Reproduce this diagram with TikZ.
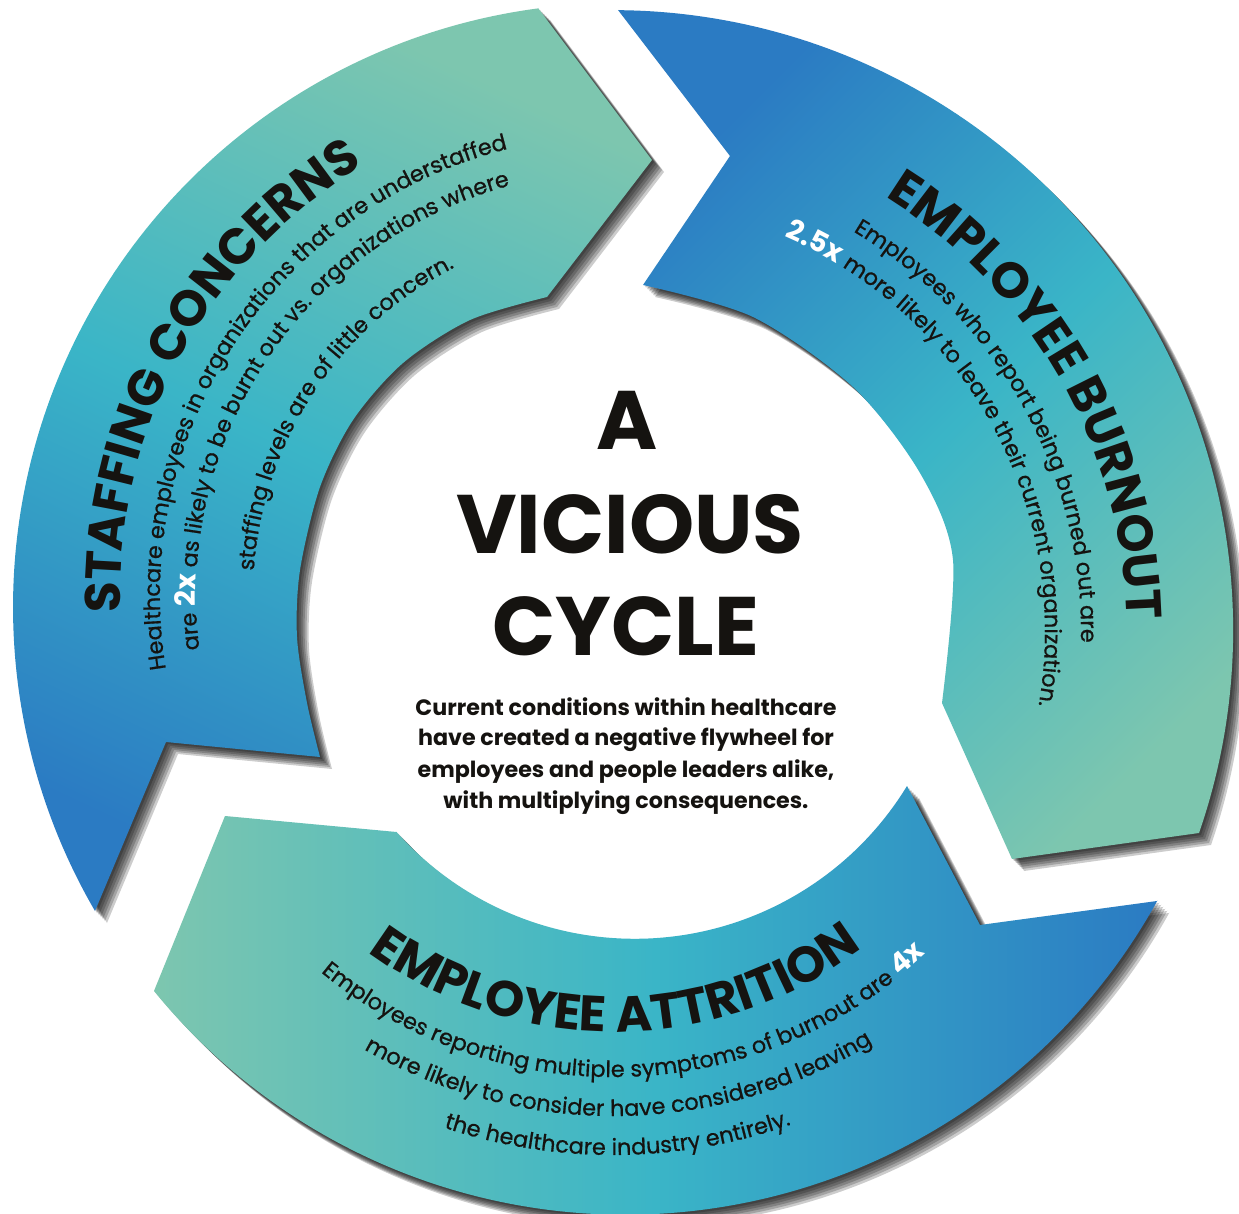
\documentclass[tikz,border=0pt]{standalone}
\usepackage{fontspec}
\setmainfont{Poppins}
\newfontfamily\bodyface[FakeBold=0.7]{Poppins}
\usetikzlibrary{decorations.text}

\definecolor{ringblue}{HTML}{2B7BC3}
\definecolor{ringcyan}{HTML}{3AB5C7}
\definecolor{ringgreen}{HTML}{7DC6AF}
\definecolor{ink}{HTML}{151310}

\newcommand\rtitle{\fontsize{25pt}{25pt}\selectfont\bfseries\color{ink}}
\newcommand\rbody{\fontsize{11.2pt}{12pt}\bodyface\mdseries\color{ink}}
\newcommand\rnum{\fontsize{14pt}{14pt}\rmfamily\bfseries\color{white}}

% one line of text set along an arc: centre x, centre y, start angle, end angle, radius, text
\newcommand\arcline[6]{%
  \path[decorate,decoration={text along path,text align=center,text={#6}}]
    ([shift={(#3:#5)}]#1,#2) arc[start angle=#3,end angle=#4,radius=#5];}

% outlines of the three arrows (pixel units, y pointing down)
\def\staffshape{(538,8) -- (652,160) -- (547,297)
  -- plot[smooth] coordinates {(547,297) (470,320) (403,363) (353,420) (320,487) (300,570) (297,637) (307,703) (320,757)}
  -- (166,742) -- (95,911) arc[start angle=149.8,end angle=262.5,radius=604] -- cycle}
\def\burnshape{(618,10) -- (730,156) -- (643,285)
  -- plot[smooth] coordinates {(643,285) (753,317) (853,387) (920,473) (953,560) (942,703)}
  -- (1012,859) -- (1199,833) arc[start angle=19.1,end angle=-89.5,radius=620] -- cycle}
\def\attrshape{(1157,901) -- (980,925) -- (907,786)
  arc[start angle=31.4,end angle=138.3,radius=319]
  -- (225,816) -- (154,991) arc[start angle=140.8,end angle=28.9,radius=608] -- cycle}

\tikzset{
  ringfill/.style={bottom color=ringblue,top color=ringgreen,middle color=ringcyan,shading angle=#1},
  shadowlayer/.style={fill=black,opacity=0.2,shift={(#1,#1)}},
  bigword/.style={inner sep=0pt,anchor=base,text=ink,font=\fontsize{41.5pt}{41.5pt}\selectfont\bfseries},
  leadline/.style={inner sep=0pt,anchor=base,text=ink,font=\fontsize{11.1pt}{11.1pt}\selectfont\bfseries}
}

\begin{document}
\begin{tikzpicture}[x=0.5pt,y=-0.5pt]
\fill[white] (0,0) rectangle (1239,1214);
\useasboundingbox (0,0) rectangle (1239,1214);

% soft drop shadows falling to the lower right of the arrows
\foreach \d in {2,4,6,8,10,12}{
  \path[shadowlayer=\d] \staffshape;
  \path[shadowlayer=\d] \burnshape;
  \path[shadowlayer=\d] \attrshape;
}

% the three arrows
\shade[ringfill=-25] \staffshape;
\shade[ringfill=-135] \burnshape;
\shade[ringfill=90] \attrshape;

% staffing concerns
\arcline{620}{595}{-206.4}{-96.4}{500}{|\rtitle|STAFFING CONCERNS}
\arcline{620}{595}{-206.7}{-86.7}{460}{|\rbody|Healthcare employees in organizations that are understaffed}
\arcline{620}{595}{-206.2}{-86.2}{424}{|\rbody|are |\rnum|2x|\rbody| as likely to be burnt out vs. organizations where}
\arcline{620}{595}{-196.5}{-96.5}{367}{|\rbody|staffing levels are of little concern.}

% employee burnout
\arcline{615}{632}{-84.75}{25.25}{512}{|\rtitle|EMPLOYEE BURNOUT}
\arcline{615}{632}{-89}{31}{466}{|\rbody|Employees who report being burned out are}
\arcline{615}{632}{-88.45}{31.55}{430}{|\rnum|2.5x|\rbody| more likely to leave their current organization.}

% employee attrition
\arcline{613}{618}{149.6}{29.6}{414}{|\rtitle|EMPLOYEE ATTRITION}
\arcline{613}{618}{148.25}{28.25}{459}{|\rbody|Employees reporting multiple symptoms of burnout are |\rnum|4x}
\arcline{613}{618}{149.3}{29.3}{498}{|\rbody|more likely to consider have considered leaving}
\arcline{613}{618}{139.5}{39.5}{537}{|\rbody|the healthcare industry entirely.}

% centre
\node[bigword] (wordA) at (627,450) {A};
\node[bigword] (wordB) at (630,553) {VICIOUS};
\node[bigword] (wordC) at (626,655) {CYCLE};
\node[leadline] (lead1) at (626,715) {Current conditions within healthcare};
\node[leadline] (lead2) at (626,746) {have created a negative flywheel for};
\node[leadline] (lead3) at (626,777) {employees and people leaders alike,};
\node[leadline] (lead4) at (626,808) {with multiplying consequences.};
\end{tikzpicture}
\end{document}
